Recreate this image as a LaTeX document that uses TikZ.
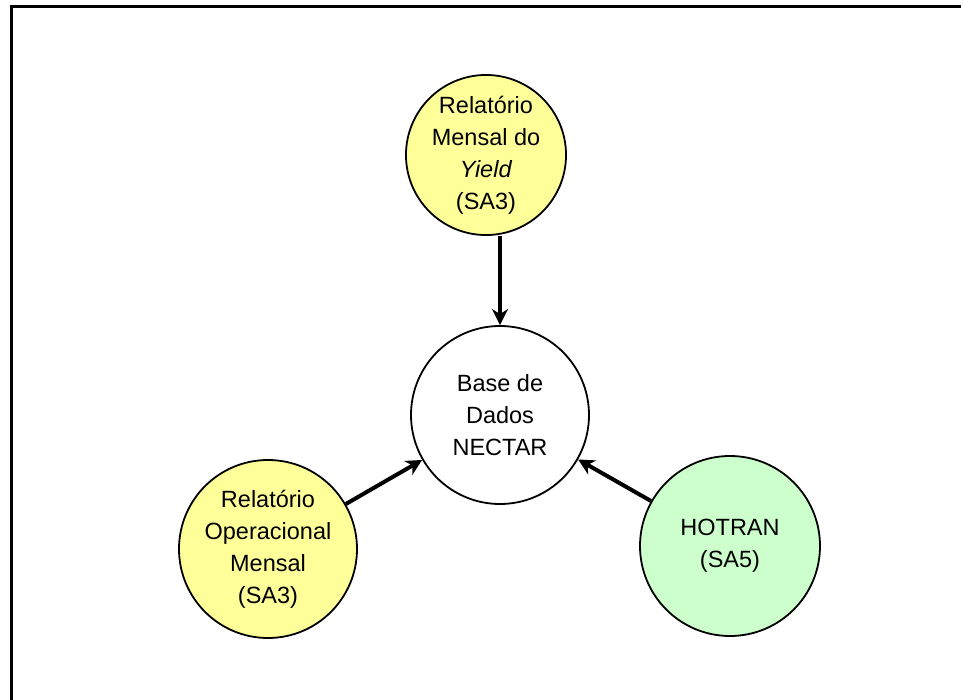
\documentclass[tikz,border=0pt]{standalone}
\usepackage{fontspec}
\setmainfont{Liberation Sans}
\usetikzlibrary{arrows.meta}
\definecolor{ylw}{RGB}{255,255,153}
\definecolor{grn}{RGB}{204,255,204}
\begin{document}
\begin{tikzpicture}[x=1pt,y=-1pt,
  bubble/.style={circle,draw=black,line width=1.8pt,align=center,inner sep=0pt,
    font=\fontsize{23.5}{32}\selectfont},
  link/.style={line width=4pt,-{Stealth[length=16pt,width=16pt,inset=5pt]}}]
\useasboundingbox (0,0) rectangle (961,700);
\draw[line width=3pt] (11,700) -- (11,6.5) -- (961,6.5);
\node[bubble,fill=ylw,minimum size=152pt] (yield) at (486,155) {Relatório\\Mensal do\\\textit{Yield}\\(SA3)};
\node[bubble,fill=white,minimum size=178pt] (base) at (500,415) {Base de\\Dados\\NECTAR};
\node[bubble,fill=ylw,minimum size=178pt] (oper) at (268,549) {Relatório\\Operacional\\Mensal\\(SA3)};
\node[bubble,fill=grn,minimum size=180pt] (hotran) at (730,546) {HOTRAN\\(SA5)};
\draw[link] (yield.south -| base.north) -- (base.north);
\draw[link] (oper) -- (base);
\draw[link] (hotran) -- (base);
\end{tikzpicture}
\end{document}
